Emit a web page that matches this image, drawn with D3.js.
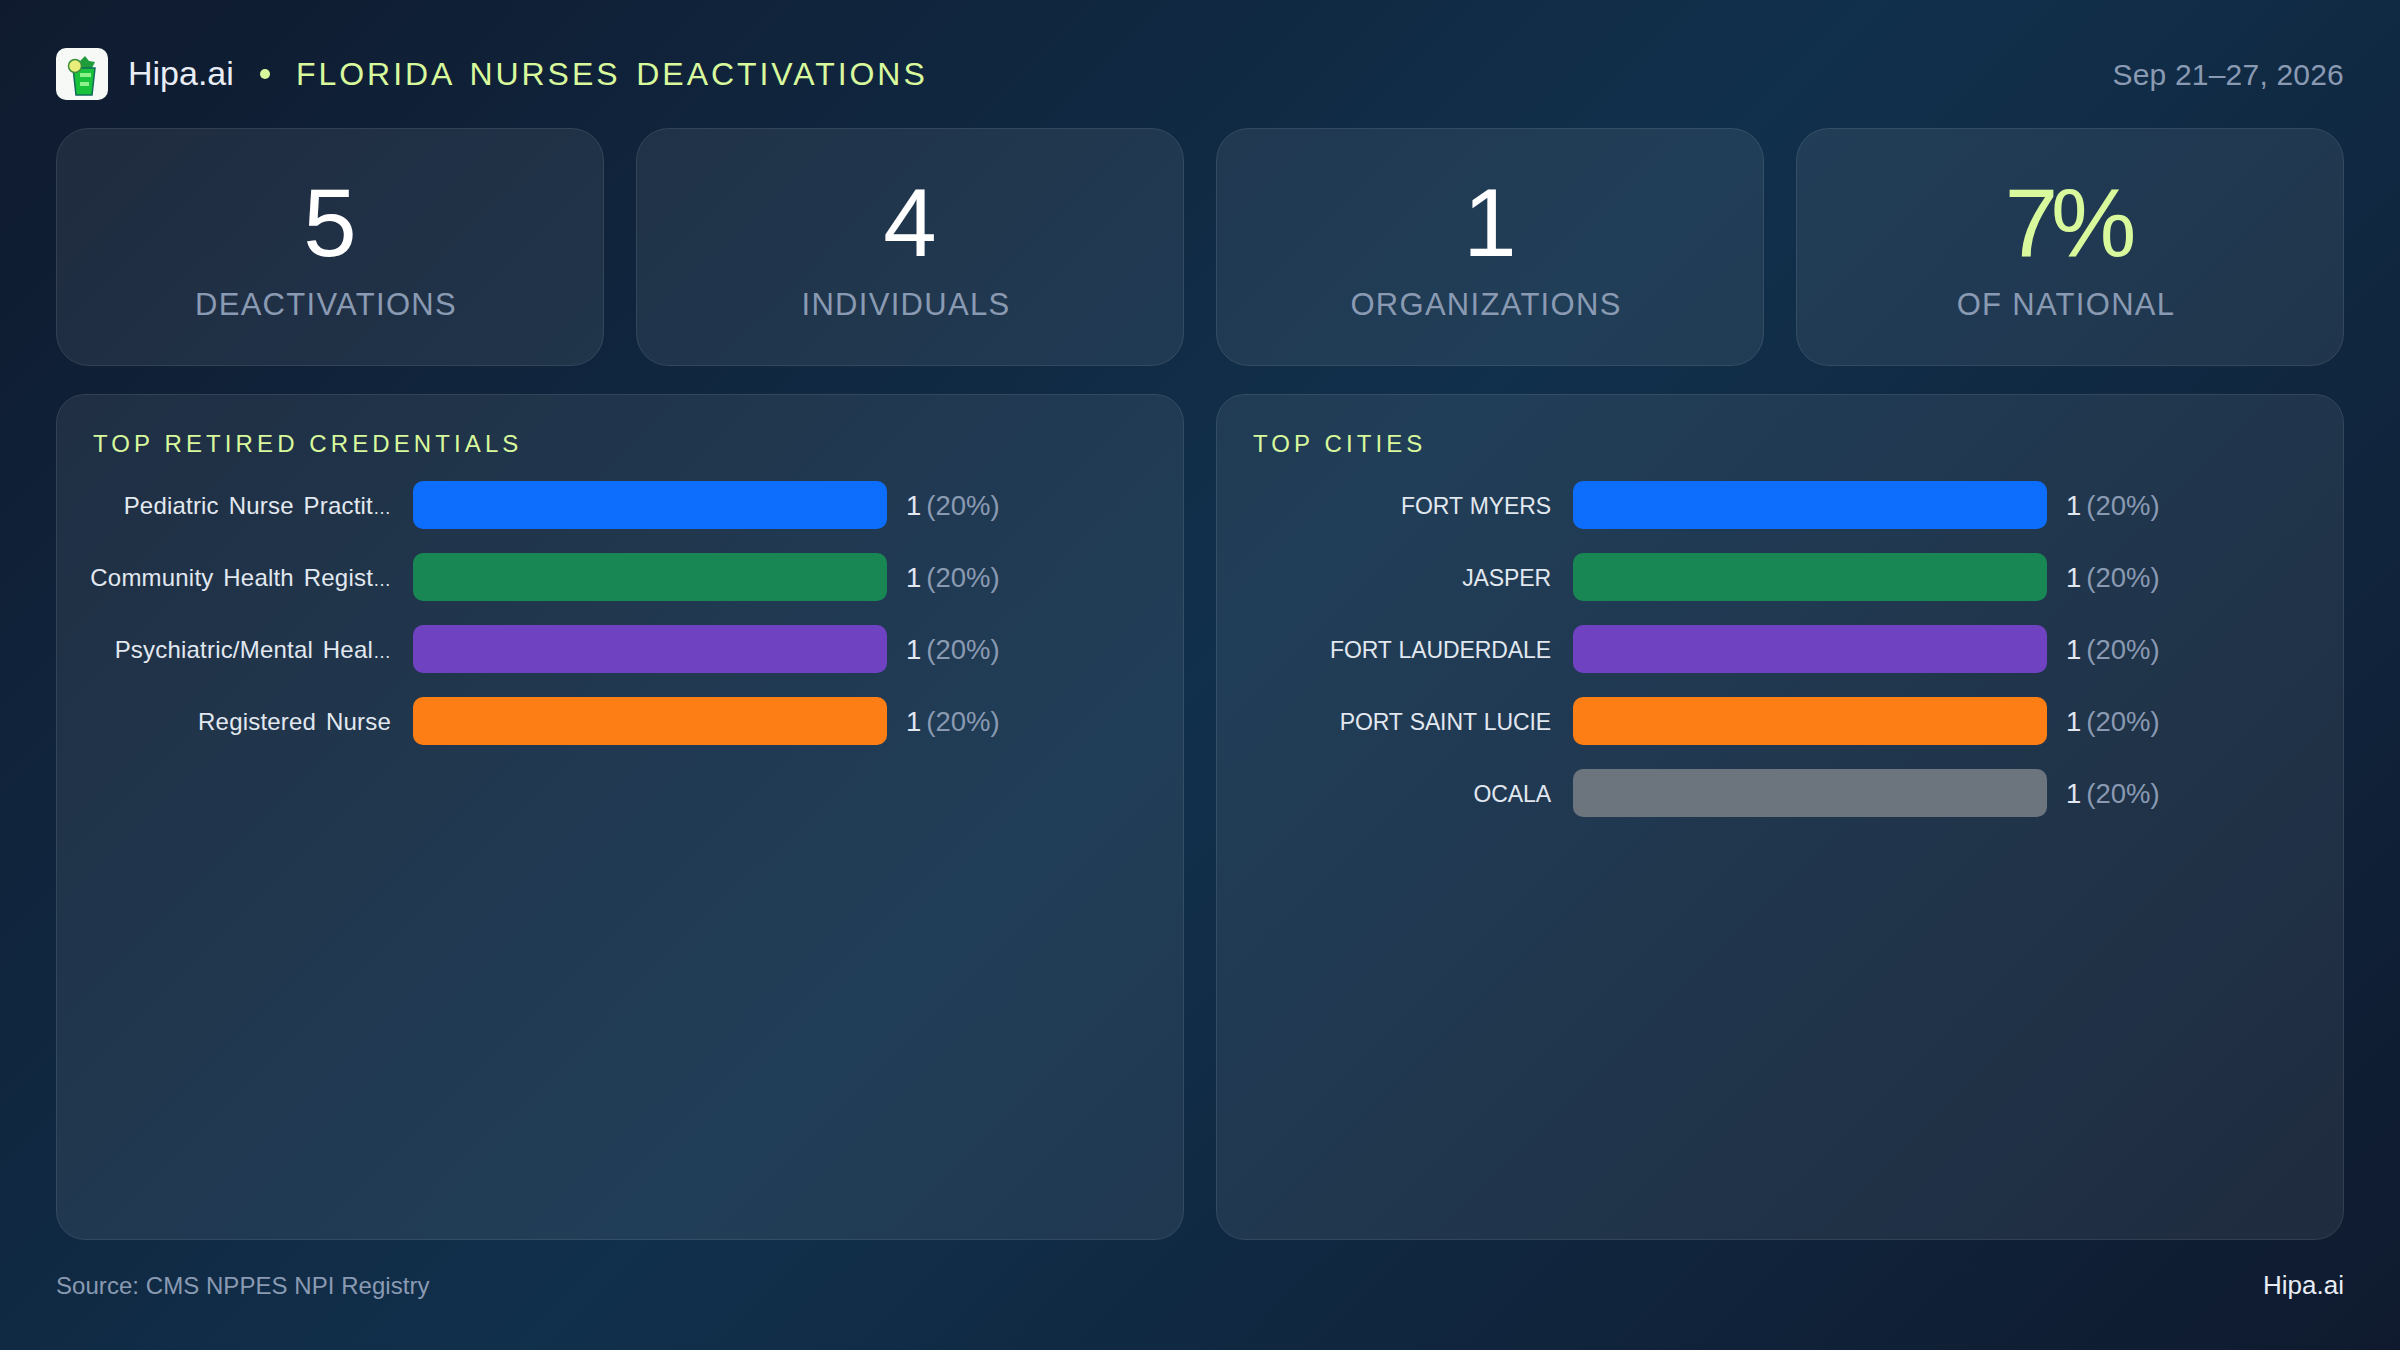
<!DOCTYPE html>
<html><head><meta charset="utf-8">
<style>html,body{margin:0;padding:0;background:#0f1b2e;overflow:hidden}svg{display:block}text{font-family:"Liberation Sans",Inter,sans-serif}</style>
<script src="https://cdn.jsdelivr.net/npm/d3@7"></script></head><body>
<script>
const brand="Hipa.ai", title="FLORIDA NURSES DEACTIVATIONS", dateRange="Sep 21–27, 2026";
const kpiValues=["5","4","1","7%"];
const kpiLabels=["DEACTIVATIONS","INDIVIDUALS","ORGANIZATIONS","OF NATIONAL"];
const credentialNames=["Pediatric Nurse Practit…","Community Health Regist…","Psychiatric/Mental Heal…","Registered Nurse"];
const credentialValues=[1,1,1,1];
const cityNames=["FORT MYERS","JASPER","FORT LAUDERDALE","PORT SAINT LUCIE","OCALA"];
const cityValues=[1,1,1,1,1];
const barColors=["#0d6efd","#198754","#6f42c1","#fd7e14","#6c757d"];
const totalCount=5;
const panelTitles=["TOP RETIRED CREDENTIALS","TOP CITIES"];
const source="Source: CMS NPPES NPI Registry";

const W=2400,H=1350;
const svg=d3.select("body").append("svg").attr("width",W).attr("height",H);
const defs=svg.append("defs");
const bg=defs.append("linearGradient").attr("id","bg").attr("gradientUnits","userSpaceOnUse")
 .attr("x1",262).attr("y1",-262).attr("x2",2138).attr("y2",1612);
[[0,"#0f1a2e"],[.5,"#11304c"],[1,"#0f1a2e"]].forEach(([o,c])=>bg.append("stop").attr("offset",o).attr("stop-color",c));
svg.append("rect").attr("width",W).attr("height",H).attr("fill","url(#bg)");

// header icon
const icon=svg.append("g").attr("transform","translate(56,48)");
icon.append("rect").attr("width",52).attr("height",52).attr("rx",10).attr("fill","#f6f9f5");
icon.append("path").attr("d","M24 13 L29 8 L33 13 L39 14 L36 20 L25 20Z").attr("fill","#1f9d3a");
icon.append("path").attr("d","M17 20 H39 L36 47 H20Z").attr("fill","#18c23a").attr("stroke","#0f6a5c").attr("stroke-width",1.5);
icon.append("rect").attr("x",24).attr("y",25).attr("width",11).attr("height",4).attr("fill","#8ef08a");
icon.append("rect").attr("x",24).attr("y",34).attr("width",9).attr("height",4).attr("fill","#8ef08a");
icon.append("circle").attr("cx",19).attr("cy",18).attr("r",6.5).attr("fill","#e9ee7a").attr("stroke","#3c8f3a").attr("stroke-width",1.5);

const txt=(x,y,s,size,fill,anchor="start",ls=0,ws=0)=>svg.append("text").attr("x",x).attr("y",y).text(s)
 .attr("font-size",size).attr("fill",fill).attr("text-anchor",anchor).attr("letter-spacing",ls).attr("word-spacing",ws);
txt(128,85,brand,34,"#e8edf5");
svg.append("circle").attr("cx",265).attr("cy",74).attr("r",5).attr("fill","#d9f99d");
txt(296,85,title,32,"#d9f99d","start",2.95,4);
txt(2344,85,dateRange,30,"#8a9ab2","end",.2);

// KPI cards
const cardX=d3.scaleBand().domain(d3.range(4)).range([56,2344]).paddingInner(32/580);
kpiValues.forEach((v,i)=>{
  const x=cardX(i),w=cardX.bandwidth();
  svg.append("rect").attr("x",x+.5).attr("y",128.5).attr("width",w-1).attr("height",237).attr("rx",32)
    .attr("fill","#fff").attr("fill-opacity",.07).attr("stroke","#fff").attr("stroke-opacity",.12);
  txt(x+w/2-(i==3?3:0),256,v,96,i==3?"#d9f99d":"#fff","middle",i==3?-7:0);
  txt(x+w/2-4,315,kpiLabels[i],31,"#8a9ab2","middle",1.3);
});

// panels
const panelX=[56,1216], panelW=1128;
const x=d3.scaleLinear().domain([0,1]).range([0,474]);
function panel(px,ttl,names,vals,size,ls,ws){
  svg.append("rect").attr("x",px+.5).attr("y",394.5).attr("width",panelW-1).attr("height",845).attr("rx",28)
    .attr("fill","#fff").attr("fill-opacity",.07).attr("stroke","#fff").attr("stroke-opacity",.12);
  txt(px+37,452,ttl,24,"#d9f99d","start",4.1);
  const y=d3.scaleBand().domain(names).range([481-12,469+72*names.length]).paddingInner(24/72).paddingOuter(12/72);
  const g=svg.append("g").attr("transform",`translate(${px+357},0)`);
  const rows=g.selectAll("g").data(names).join("g").attr("transform",d=>`translate(0,${y(d)})`);
  rows.append("rect").attr("width",(d,i)=>x(vals[i])).attr("height",y.bandwidth()).attr("rx",10).attr("fill",(d,i)=>barColors[i]);
  const nm=rows.append("text").attr("x",-22).attr("y",y.bandwidth()/2+9).attr("text-anchor","end").attr("font-size",size).attr("letter-spacing",ls).attr("word-spacing",ws).attr("fill","#e2e8f0");
  nm.append("tspan").text(d=>d.replace("…",""));
  nm.filter(d=>d.endsWith("…")).append("tspan").attr("font-size",18).attr("letter-spacing",0).text("…");
  const lab=rows.append("text").attr("x",(d,i)=>x(vals[i])+19).attr("y",y.bandwidth()/2+10).attr("font-size",27.5);
  lab.append("tspan").attr("fill","#e2e8f0").text((d,i)=>vals[i]);
  lab.append("tspan").attr("fill","#8a9ab2").attr("dx",5).text((d,i)=>`(${d3.format(".0%")(vals[i]/totalCount)})`);
}
panel(panelX[0],panelTitles[0],credentialNames,credentialValues,24,.2,3);
panel(panelX[1],panelTitles[1],cityNames,cityValues,23,-.1,1);

txt(56,1294,source,24,"#8a9ab2","start",.05);
txt(2344,1294,brand,26,"#e8edf5","end");
</script></body></html>
